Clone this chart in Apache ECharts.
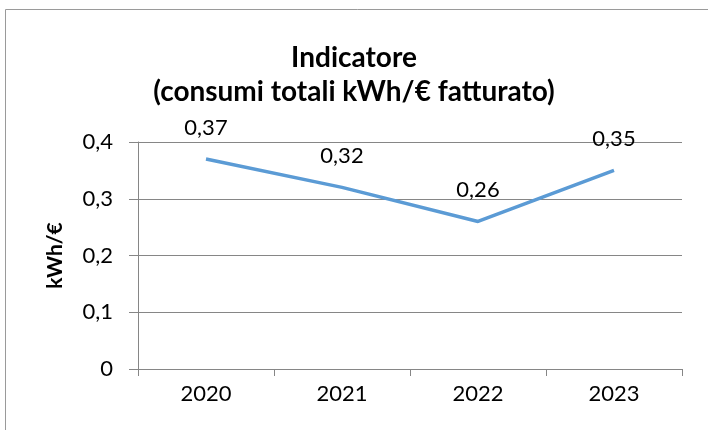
<!DOCTYPE html>
<html lang="it">
<head>
  <meta charset="UTF-8">
  <title>Indicatore</title>
  <script src="https://cdn.jsdelivr.net/npm/echarts@6/dist/echarts.min.js"></script>
  <style>
    html, body { margin: 0; padding: 0; background: #fff; }
  </style>
</head>
<body>
<div id="main" style="width: 708px;height:430px;"></div>
<script>
  var anni = ['2020', '2021', '2022', '2023'];
  var consumi = [0.37, 0.32, 0.26, 0.35];
  var yTicks = [0, 0.1, 0.2, 0.3, 0.4];

  var font = 'Lato, "Open Sans", sans-serif';
  var myChart = echarts.init(document.getElementById('main'));

  function virgola(v) {
    return String(v).replace('.', ',');
  }

  var option = {
    animation: false,
    textStyle: { fontFamily: font },
    graphic: [{
      type: 'rect',
      shape: { x: 5.5, y: 9.5, width: 760, height: 480 },
      style: { fill: 'none', stroke: '#9a9a9a', lineWidth: 1 }
    }],
    title: {
      text: 'Indicatore\n(consumi totali kWh/€ fatturato)',
      left: 'center',
      top: 36,
      textStyle: {
        fontFamily: font,
        fontSize: 28,
        fontWeight: 'bold',
        color: '#000',
        lineHeight: 34
      }
    },
    grid: { left: 138, right: 26, top: 142, bottom: 61 },
    xAxis: {
      type: 'category',
      data: anni,
      boundaryGap: true,
      axisLine: { lineStyle: { color: '#868686', width: 1 } },
      axisTick: { show: true, interval: 0, length: 7, lineStyle: { color: '#868686' } },
      axisLabel: { color: '#000', fontSize: 22, fontFamily: font, margin: 14 }
    },
    yAxis: {
      type: 'value',
      min: yTicks[0],
      max: yTicks[yTicks.length - 1],
      interval: 0.1,
      name: 'kWh/€',
      nameLocation: 'middle',
      nameGap: 72,
      nameTextStyle: { color: '#000', fontSize: 21, fontWeight: 'bold', fontFamily: font },
      axisLine: { show: true, lineStyle: { color: '#868686', width: 1 } },
      axisTick: { show: true, length: 9, lineStyle: { color: '#868686' } },
      axisLabel: {
        color: '#000', fontSize: 22, fontFamily: font, margin: 25,
        formatter: function (v) { return virgola(Math.round(v * 10) / 10); }
      },
      splitLine: { lineStyle: { color: '#868686', width: 1 } }
    },
    series: [{
      type: 'line',
      data: consumi,
      symbol: 'circle',
      symbolSize: 1,
      showSymbol: true,
      itemStyle: { color: 'rgba(0,0,0,0)' },
      lineStyle: { color: '#5b9bd5', width: 3.5 },
      label: {
        show: true,
        position: 'top',
        distance: 20,
        color: '#000',
        fontSize: 22,
        fontFamily: font,
        formatter: function (p) { return virgola(p.value); }
      }
    }]
  };

  myChart.setOption(option);
</script>
</body>
</html>
